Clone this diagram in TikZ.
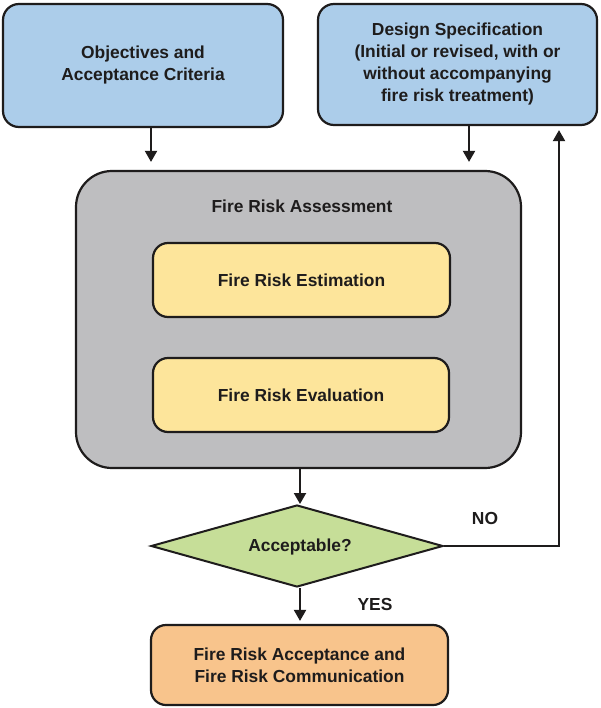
\documentclass[tikz,border=0pt]{standalone}
\usepackage{fontspec}
\setmainfont{Liberation Sans}
\usetikzlibrary{shapes.geometric,arrows.meta}
\definecolor{boxblue}{RGB}{172,205,234}
\definecolor{boxgray}{RGB}{190,190,192}
\definecolor{boxyellow}{RGB}{253,229,155}
\definecolor{boxgreen}{RGB}{198,222,152}
\definecolor{boxorange}{RGB}{248,196,140}
\definecolor{ink}{RGB}{30,28,28}
\tikzset{
  every node/.style={font=\bfseries\fontsize{17.4}{22}\selectfont, text=ink},
  rbox/.style={draw=ink, line width=2.2pt, rounded corners=#1, inner sep=0pt, align=center},
  rbox/.default=16pt,
  decision/.style={draw=ink, line width=2pt, diamond, inner sep=0pt, fill=boxgreen},
  arr/.style={draw=ink, line width=2pt, -{Triangle[length=11pt,width=12pt]}},
  lbl/.style={inner sep=0pt}
}
\begin{document}
\begin{tikzpicture}[x=1pt,y=-1pt]
\fill[white] (0,0) rectangle (600,708);
\useasboundingbox (0,0) rectangle (600,708);

\node[rbox, fill=boxblue, minimum width=280pt, minimum height=123pt] (obj) at (143,65.5)
  {Objectives and\\Acceptance Criteria};
\node[rbox, fill=boxblue, minimum width=279pt, minimum height=121pt] (spec) at (457.5,64.5)
  {Design Specification\\(Initial or revised, with or\\without accompanying\\fire risk treatment)};

\node[rbox=36pt, fill=boxgray, minimum width=445pt, minimum height=297pt] (fra) at (298.5,319.5) {};
\node[lbl] (fratitle) at (302,206) {Fire Risk Assessment};
\node[rbox=15pt, fill=boxyellow, minimum width=297pt, minimum height=74pt] (est) at (301.5,280) {Fire Risk Estimation};
\node[rbox=15pt, fill=boxyellow, minimum width=296pt, minimum height=74pt] (eval) at (301,395) {Fire Risk Evaluation};

\node[decision, minimum width=292pt, minimum height=82pt] (acc) at (297,546) {};
\node[lbl] (acctext) at (300,547) {Acceptable?};

\node[rbox=15pt, fill=boxorange, minimum width=297pt, minimum height=80pt] (final) at (299.5,665)
  {Fire Risk Acceptance and\\Fire Risk Communication};

\coordinate (xa) at (151,0);
\coordinate (xb) at (469,0);
\coordinate (xc) at (300,0);
\coordinate (xr) at (559,0);

\draw[arr, shorten >=8pt] (obj.south -| xa) -- (fra.north -| xa);
\draw[arr, shorten >=8pt] (spec.south -| xb) -- (fra.north -| xb);
\draw[arr] (fra.south -| xc) -- (acc.north -| xc);
\draw[arr, shorten >=3pt] (acc.south -| xc) -- (final.north -| xc);
\draw[arr, shorten >=4pt] (acc.east) -- (acc.east -| xr) -- (spec.south -| xr);

\node[lbl] (no) at (485,519) {NO};
\node[lbl] (yes) at (375,605) {YES};
\end{tikzpicture}
\end{document}
